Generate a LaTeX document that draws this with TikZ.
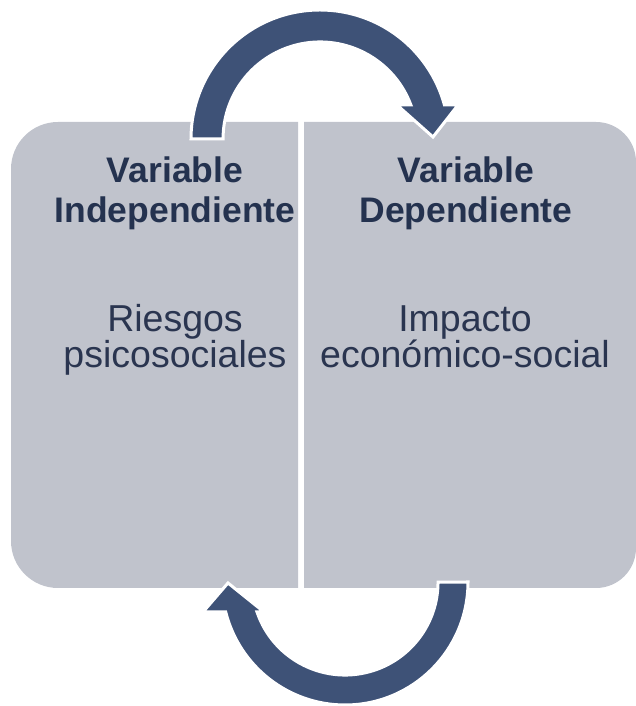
\documentclass[tikz,border=0pt]{standalone}
\usepackage{fontspec}
\setmainfont{Liberation Sans}
\definecolor{panelgray}{RGB}{192,195,204}
\definecolor{arrowblue}{RGB}{62,82,119}
\definecolor{titlenavy}{RGB}{36,50,79}
\definecolor{textnavy}{RGB}{42,53,80}
\begin{document}
\begin{tikzpicture} [x = 1pt, y = 1pt, panel/.style = {fill = panelgray}, cyclearrow/.style = {fill = arrowblue, draw = white, line width = 3pt, line join = miter}, title/.style = {anchor = base, align = center, text = titlenavy, font = \fontsize{35.5}{40}\selectfont\bfseries}, body/.style = {anchor = base, align = center, text = textnavy, font = \fontsize{37.5}{36}\selectfont}]
        \useasboundingbox (0,0) rectangle (635,706);
        
        \fill [panel] (298,584) -- (58,584) arc [start angle = 90, end angle = 180, radius = 47] -- (11,165) arc [start angle = 180, end angle = 270, radius = 47] -- (298,118) -- cycle;
        \fill [panel] (304,584) -- (596,584) arc [start angle = 90, end angle = 0, radius = 40] -- (636,158) arc [start angle = 0, end angle = -90, radius = 40] -- (304,118) -- cycle;
        
        \node [title] (vi) at (175,483) {Variable\\Independiente};
        \node [title] (vd) at (466,483) {Variable\\Dependiente};
        
        \node [body] (ri) at (175,338) {Riesgos\\psicosociales};
        \node [body] (im) at (465,338) {Impacto\\económico-social};
        
        \draw [cyclearrow] (191,567) arc [start angle = 180, end angle = 15.3, radius = 129] -- (458,601) -- (433,569) -- (397,601) -- (410.9,601) arc [start angle = 20.5, end angle = 180, radius = 97] -- cycle;
        \draw [cyclearrow] (468,124) arc [start angle = 0, end angle = -165.9, radius = 123] -- (203,94) -- (228,123) -- (264,94) -- (257,94) arc [start angle = -161.2, end angle = 0, radius = 93] -- cycle;
        
    \end{tikzpicture}
\end{document}
